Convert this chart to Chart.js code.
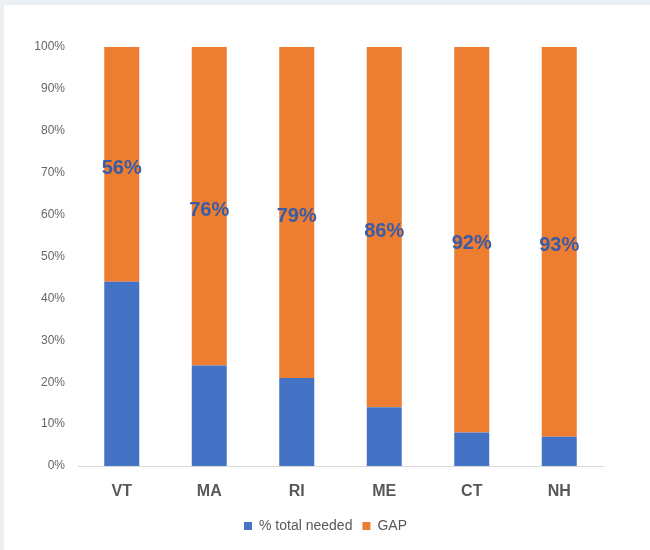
<!DOCTYPE html>
<html>
<head>
<meta charset="utf-8">
<script src="https://cdn.jsdelivr.net/npm/chart.js@4"></script>
<style>
  body { margin: 0; background: #EBF0F4; }
  #panel { position: absolute; left: 4px; top: 5px; width: 646px; height: 545px; background: #fff; }
</style>
</head>
<body>
<div id="panel"><canvas id="chartEl" width="646" height="545"></canvas></div>
<script>
const states = ['VT', 'MA', 'RI', 'ME', 'CT', 'NH']
const totalNeeded = [44, 24, 21, 14, 8, 7]
const gap = [56, 76, 79, 86, 92, 93]
const yTicks = [0, 10, 20, 30, 40, 50, 60, 70, 80, 90, 100]

/* labels des pourcentages au centre de la partie GAP */
const gapLabels = {
  id: 'gapLabels',
  afterDatasetsDraw(chart) {
    const ctx = chart.ctx
    const meta = chart.getDatasetMeta(1)
    ctx.save()
    ctx.font = 'bold 20px "Liberation Sans", Arial, sans-serif'
    ctx.fillStyle = '#3A5BA5'
    ctx.textAlign = 'center'
    ctx.textBaseline = 'middle'
    meta.data.forEach((bar, i) => {
      const p = bar.getCenterPoint()
      ctx.fillText(gap[i] + '%', p.x, p.y + 4)
    })
    ctx.restore()
  }
}

/* décale la légende sous le centre du graphique */
const shiftLegend = {
  id: 'shiftLegend',
  afterLayout(chart) {
    chart.legend.left += 22
    chart.legend.right += 22
  }
}

new Chart(document.querySelector('#chartEl'), {
  type: 'bar',
  data: {
    labels: states,
    datasets: [
      { label: '% total needed', data: totalNeeded, backgroundColor: '#4472C4', categoryPercentage: 0.4, barPercentage: 1 },
      { label: 'GAP', data: gap, backgroundColor: '#ED7D31', categoryPercentage: 0.4, barPercentage: 1 }
    ]
  },
  options: {
    responsive: false,
    animation: false,
    layout: { padding: { left: 0, right: 47, top: 42, bottom: 7 } },
    scales: {
      x: {
        stacked: true,
        grid: { display: false, drawTicks: false },
        border: { display: true, color: '#D9D9D9', width: 1 },
        ticks: { color: '#595959', padding: 16, font: { family: '"Liberation Sans", Arial, sans-serif', size: 16, weight: 'bold' } },
        afterFit: s => { s.height = 43 }
      },
      y: {
        stacked: true,
        min: 0,
        max: 100,
        grid: { display: false, drawTicks: false },
        border: { display: false },
        afterBuildTicks: s => { s.ticks = yTicks.map(v => ({ value: v })) },
        ticks: { color: '#666', padding: 13, font: { family: '"Liberation Sans", Arial, sans-serif', size: 12 }, callback: v => v + '%' },
        afterFit: s => { s.width = 74 }
      }
    },
    plugins: {
      legend: {
        position: 'bottom',
        labels: { boxWidth: 8, boxHeight: 8, color: '#595959', padding: 10, font: { family: '"Liberation Sans", Arial, sans-serif', size: 14 } }
      },
      tooltip: { enabled: false }
    }
  },
  plugins: [gapLabels, shiftLegend]
})
</script>
</body>
</html>
